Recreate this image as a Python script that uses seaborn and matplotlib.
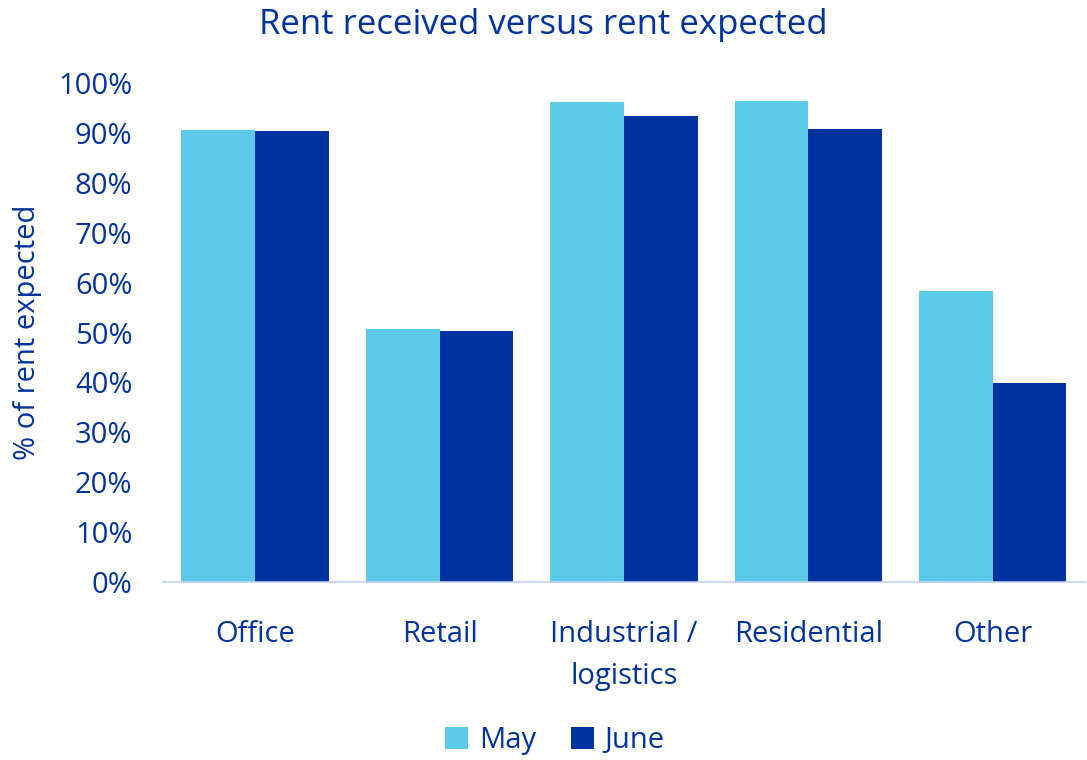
import pandas as pd
import seaborn as sns
import matplotlib.pyplot as plt
from matplotlib.ticker import PercentFormatter

# data
categories = ["Office", "Retail", "Industrial /\nlogistics", "Residential", "Other"]
may = [90.6, 50.8, 96.1, 96.4, 58.4]
june = [90.4, 50.3, 93.3, 90.8, 39.9]

df = pd.DataFrame({
    "category": categories * 2,
    "month": ["May"] * 5 + ["June"] * 5,
    "value": may + june,
})

sns.set_style("white")
plt.rcParams["font.family"] = ["Open Sans", "DejaVu Sans"]
text_col = "#0033A0"

fig = plt.figure(figsize=(10.87, 7.6), dpi=100)
ax = fig.add_axes([0.150, 0.234, 0.848, 0.657])

sns.barplot(data=df, x="category", y="value", hue="month",
            palette={"May": "#5BC9E8", "June": "#0033A0"},
            width=0.8, saturation=1, linewidth=0, ax=ax)

ax.set_ylim(0, 100)
ax.set_yticks(range(0, 101, 10))
ax.yaxis.set_major_formatter(PercentFormatter(decimals=0))
ax.set_xlabel("")
ax.set_ylabel("% of rent expected", color=text_col, fontsize=21)
ax.yaxis.set_label_coords(-0.131, 0.5)
ax.tick_params(axis="both", colors=text_col, labelsize=21, length=0)
ax.tick_params(axis="x", pad=27)
ax.tick_params(axis="y", pad=22)
for lab in ax.get_xticklabels():
    lab.set_linespacing(1.6)
for s in ["top", "right", "left"]:
    ax.spines[s].set_visible(False)
ax.spines["bottom"].set_color("#C5D0EC")
ax.spines["bottom"].set_linewidth(1.2)

fig.suptitle("Rent received versus rent expected", color=text_col,
             fontsize=25, y=0.99)

ax.legend(loc="center", bbox_to_anchor=(0.425, -0.318), ncol=2,
          frameon=False, fontsize=21, labelcolor=text_col,
          handlelength=0.8, handleheight=0.8, handletextpad=0.35,
          columnspacing=1.2)

plt.savefig("out.png", dpi=100)
